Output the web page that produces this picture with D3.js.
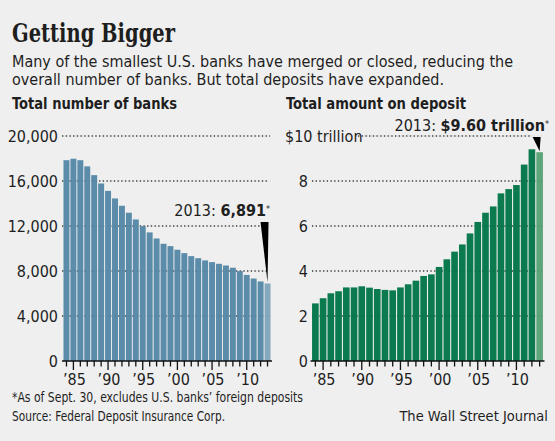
<!DOCTYPE html>
<html>
<head>
<meta charset="utf-8">
<script src="https://cdn.jsdelivr.net/npm/d3@7"></script>
<style>
  body { margin: 0; background: #efefef; }
  svg { display: block; }
  text { fill: #1e1e1e; font-family: 'Liberation Sans Narrow', 'DejaVu Sans Condensed', 'Roboto', sans-serif; }
</style>
</head>
<body>
<div id="plot"></div>
<script>
// data
var years = [1984, 1985, 1986, 1987, 1988, 1989, 1990, 1991, 1992, 1993,
             1994, 1995, 1996, 1997, 1998, 1999, 2000, 2001, 2002, 2003,
             2004, 2005, 2006, 2007, 2008, 2009, 2010, 2011, 2012, 2013];
var bankCount = [17850, 17980, 17850, 17300, 16520, 15780, 15120, 14450, 13800, 13180,
                 12580, 11990, 11430, 10890, 10420, 10210, 9890, 9590, 9320, 9140,
                 8940, 8790, 8640, 8490, 8290, 7990, 7650, 7330, 7070, 6891];
var deposits = [2.56, 2.79, 3.01, 3.10, 3.27, 3.27, 3.32, 3.26, 3.20, 3.16,
                3.14, 3.27, 3.41, 3.57, 3.78, 3.85, 4.18, 4.52, 4.86, 5.18,
                5.67, 6.18, 6.59, 6.87, 7.45, 7.64, 7.82, 8.73, 9.41, 9.28];
var bankTicks = [0, 4000, 8000, 12000, 16000, 20000];
var depTicks = [0, 2, 4, 6, 8, 10];
var yearLabels = [1985, 1990, 1995, 2000, 2005, 2010];

var width = 555;
var height = 441;

var svg = d3.select("div#plot")
  .append("svg")
  .attr("width", width)
  .attr("height", height);

svg.append("rect").attr("width", width).attr("height", height).attr("fill", "#efefef");

// headline + chatter
svg.append("text")
  .attr("x", 12).attr("y", 42)
  .attr("textLength", 163).attr("lengthAdjust", "spacingAndGlyphs")
  .style("font-family", "'DejaVu Serif', 'Liberation Serif', serif")
  .style("font-weight", "bold")
  .style("font-size", "26px")
  .text("Getting Bigger");

svg.append("text")
  .attr("x", 12).attr("y", 66.5)
  .attr("textLength", 501).attr("lengthAdjust", "spacingAndGlyphs")
  .style("font-size", "16.5px")
  .text("Many of the smallest U.S. banks have merged or closed, reducing the");
svg.append("text")
  .attr("x", 12).attr("y", 85)
  .attr("textLength", 432).attr("lengthAdjust", "spacingAndGlyphs")
  .style("font-size", "16.5px")
  .text("overall number of banks. But total deposits have expanded.");

svg.append("text")
  .attr("x", 12).attr("y", 109)
  .attr("textLength", 165).attr("lengthAdjust", "spacingAndGlyphs")
  .style("font-size", "16.5px").style("font-weight", "bold")
  .text("Total number of banks");
svg.append("text")
  .attr("x", 286).attr("y", 109)
  .attr("textLength", 180).attr("lengthAdjust", "spacingAndGlyphs")
  .style("font-size", "16.5px").style("font-weight", "bold")
  .text("Total amount on deposit");

// one bar panel
function panel(opt) {
  var x = d3.scaleBand().domain(years).range(opt.xr).paddingInner(0.14).paddingOuter(0.07);
  var y = d3.scaleLinear().domain(opt.yd).range([361, 136]);
  var g = svg.append("g");

  var gridTicks = opt.ticks.filter(function(t){ return t > 0; });

  // dotted grid behind bars
  g.selectAll("line.grid")
    .data(gridTicks)
    .enter().append("line")
    .attr("class", "grid")
    .attr("x1", function(t){ return t == opt.yd[1] ? opt.topGridStart : opt.gridStart; })
    .attr("x2", function(t){ return t == opt.yd[1] ? opt.topGridEnd : opt.gridEnd; })
    .attr("y1", y).attr("y2", y)
    .style("stroke", "#444")
    .style("stroke-width", 1.3)
    .style("stroke-dasharray", "1.3,2.4");

  g.selectAll("rect.bar")
    .data(opt.values)
    .enter().append("rect")
    .attr("class", "bar")
    .attr("x", function(d, i){ return x(years[i]); })
    .attr("width", x.bandwidth())
    .attr("y", function(d){ return y(d); })
    .attr("height", function(d){ return y(0) - y(d); })
    .style("fill", function(d, i){ return i == opt.values.length - 1 ? opt.last : opt.color; });

  // faint grid showing through
  g.selectAll("line.ghost")
    .data(gridTicks)
    .enter().append("line")
    .attr("x1", opt.xr[0]).attr("x2", opt.xr[1])
    .attr("y1", y).attr("y2", y)
    .style("stroke", "#000").style("stroke-opacity", 0.12)
    .style("stroke-dasharray", "1.3,2.4");

  // tick labels
  g.selectAll("text.ylab")
    .data(opt.ticks)
    .enter().append("text")
    .attr("x", function(t){ return (t == opt.yd[1] && opt.topLabelX) ? opt.topLabelX : opt.labelX; })
    .attr("y", y)
    .attr("dy", "0.36em")
    .attr("text-anchor", function(t){ return (t == opt.yd[1] && opt.topLabelX) ? "start" : "end"; })
    .style("font-size", "16px")
    .text(opt.fmt);

  // baseline + year ticks
  g.append("line")
    .attr("x1", opt.xr[0] - 1).attr("x2", opt.xr[1] + 1)
    .attr("y1", y(0)).attr("y2", y(0))
    .style("stroke", "#111").style("stroke-width", 1.6);

  g.selectAll("line.tick")
    .data(years)
    .enter().append("line")
    .attr("x1", function(d){ return x(d) + x.bandwidth() / 2; })
    .attr("x2", function(d){ return x(d) + x.bandwidth() / 2; })
    .attr("y1", y(0))
    .attr("y2", function(d){ return yearLabels.indexOf(d) >= 0 ? y(0) + 9 : y(0) + 5.5; })
    .style("stroke", "#111").style("stroke-width", 1.3);

  g.selectAll("text.xlab")
    .data(yearLabels)
    .enter().append("text")
    .attr("x", function(d){ return x(d) + x.bandwidth() / 2 + 1; })
    .attr("y", 385)
    .attr("text-anchor", "middle")
    .style("font-size", "16px")
    .text(function(d){ return "\u2019" + String(d).slice(2); });

  // callout
  var lastX = x(years[years.length - 1]) + x.bandwidth() / 2;
  var lastY = y(opt.values[opt.values.length - 1]);
  g.append("path")
    .attr("d", "M" + (lastX - 7) + "," + opt.wedgeTop + "L" + (lastX + 1) + "," + opt.wedgeTop +
               "L" + lastX + "," + (lastY - 1) + "Z")
    .style("fill", "#000");

  var t = g.append("text")
    .attr("x", opt.noteX).attr("y", opt.noteY)
    .attr("text-anchor", "end")
    .style("font-size", "16px");
  t.append("tspan").text("2013: ");
  t.append("tspan").style("font-weight", "bold").text(opt.note);
  t.append("tspan").attr("dy", "-0.45em").style("font-size", "9px").text("*");
}

panel({
  xr: [63, 271],
  yd: [0, 20000],
  ticks: bankTicks,
  values: bankCount,
  color: "#5b8caa",
  last: "#86a8bf",
  labelX: 58,
  gridStart: 62, gridEnd: 268,
  topGridStart: 62, topGridEnd: 270,
  fmt: d3.format(","),
  wedgeTop: 222,
  noteX: 270, noteY: 216,
  note: "6,891"
});

panel({
  xr: [311.5, 543.5],
  yd: [0, 10],
  ticks: depTicks,
  values: deposits,
  color: "#0b7a4f",
  last: "#5ea57a",
  labelX: 308,
  topLabelX: 285,
  gridStart: 312, gridEnd: 540,
  topGridStart: 358, topGridEnd: 532,
  fmt: function(t){ return t == 10 ? "$10 trillion" : t; },
  wedgeTop: 137,
  noteX: 549, noteY: 131,
  note: "$9.60 trillion"
});

// footnote + credits
svg.append("text")
  .attr("x", 12).attr("y", 402)
  .attr("textLength", 291).attr("lengthAdjust", "spacingAndGlyphs")
  .style("font-size", "14.5px")
  .text("*As of Sept. 30, excludes U.S. banks\u2019 foreign deposits");
svg.append("text")
  .attr("x", 12).attr("y", 421)
  .attr("textLength", 213).attr("lengthAdjust", "spacingAndGlyphs")
  .style("font-size", "14.5px")
  .text("Source: Federal Deposit Insurance Corp.");
svg.append("text")
  .attr("x", 548).attr("y", 421)
  .attr("text-anchor", "end")
  .style("font-size", "14.5px")
  .text("The Wall Street Journal");
</script>
</body>
</html>
